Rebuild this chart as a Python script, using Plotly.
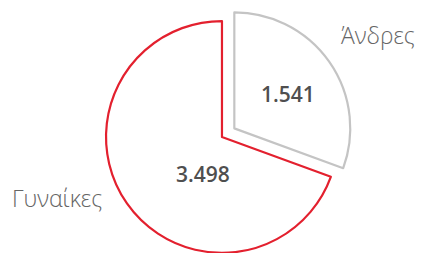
import plotly.graph_objects as go

labels = ["Άνδρες", "Γυναίκες"]
values = [1541, 3498]
line_colors = ["#c4c4c4", "#e3202e"]
pulls = [0.13, 0]

# label / value text anchor points (paper coordinates)
label_pos = [(0.895, 0.891), (0.136, 0.269)]
value_pos = [(0.6825, 0.664), (0.48, 0.357)]

fig = go.Figure()
fig.add_trace(go.Pie(
    labels=labels, values=values, sort=False, direction="clockwise", rotation=0,
    pull=pulls,
    marker=dict(colors=["white", "white"], line=dict(color=line_colors, width=2.2)),
    textinfo="none",
    hoverinfo="skip", showlegend=False,
    domain=dict(x=[0.052, 1], y=[0, 1]),
))

for lab, val, (lx, ly), (vx, vy) in zip(labels, values, label_pos, value_pos):
    fig.add_annotation(x=lx, y=ly, xref="paper", yref="paper", text=lab,
                       showarrow=False, xanchor="center", yanchor="middle",
                       font=dict(family="Open Sans", size=23, weight=300, color="#666666"))
    fig.add_annotation(x=vx, y=vy, xref="paper", yref="paper",
                       text=f"{val:,}".replace(",", "."),
                       showarrow=False, xanchor="center", yanchor="middle",
                       font=dict(family="Open Sans", size=21, weight=600, color="#4f4f4f"))

fig.update_layout(
    width=422, height=268,
    margin=dict(l=0, r=0, t=6, b=0),
    paper_bgcolor="white", plot_bgcolor="white",
    separators=",.",
)
fig.write_html("out.html", config={"displayModeBar": False},
               post_script="document.documentElement.style.overflow='hidden';document.body.style.overflow='hidden';document.body.style.margin='0';")
